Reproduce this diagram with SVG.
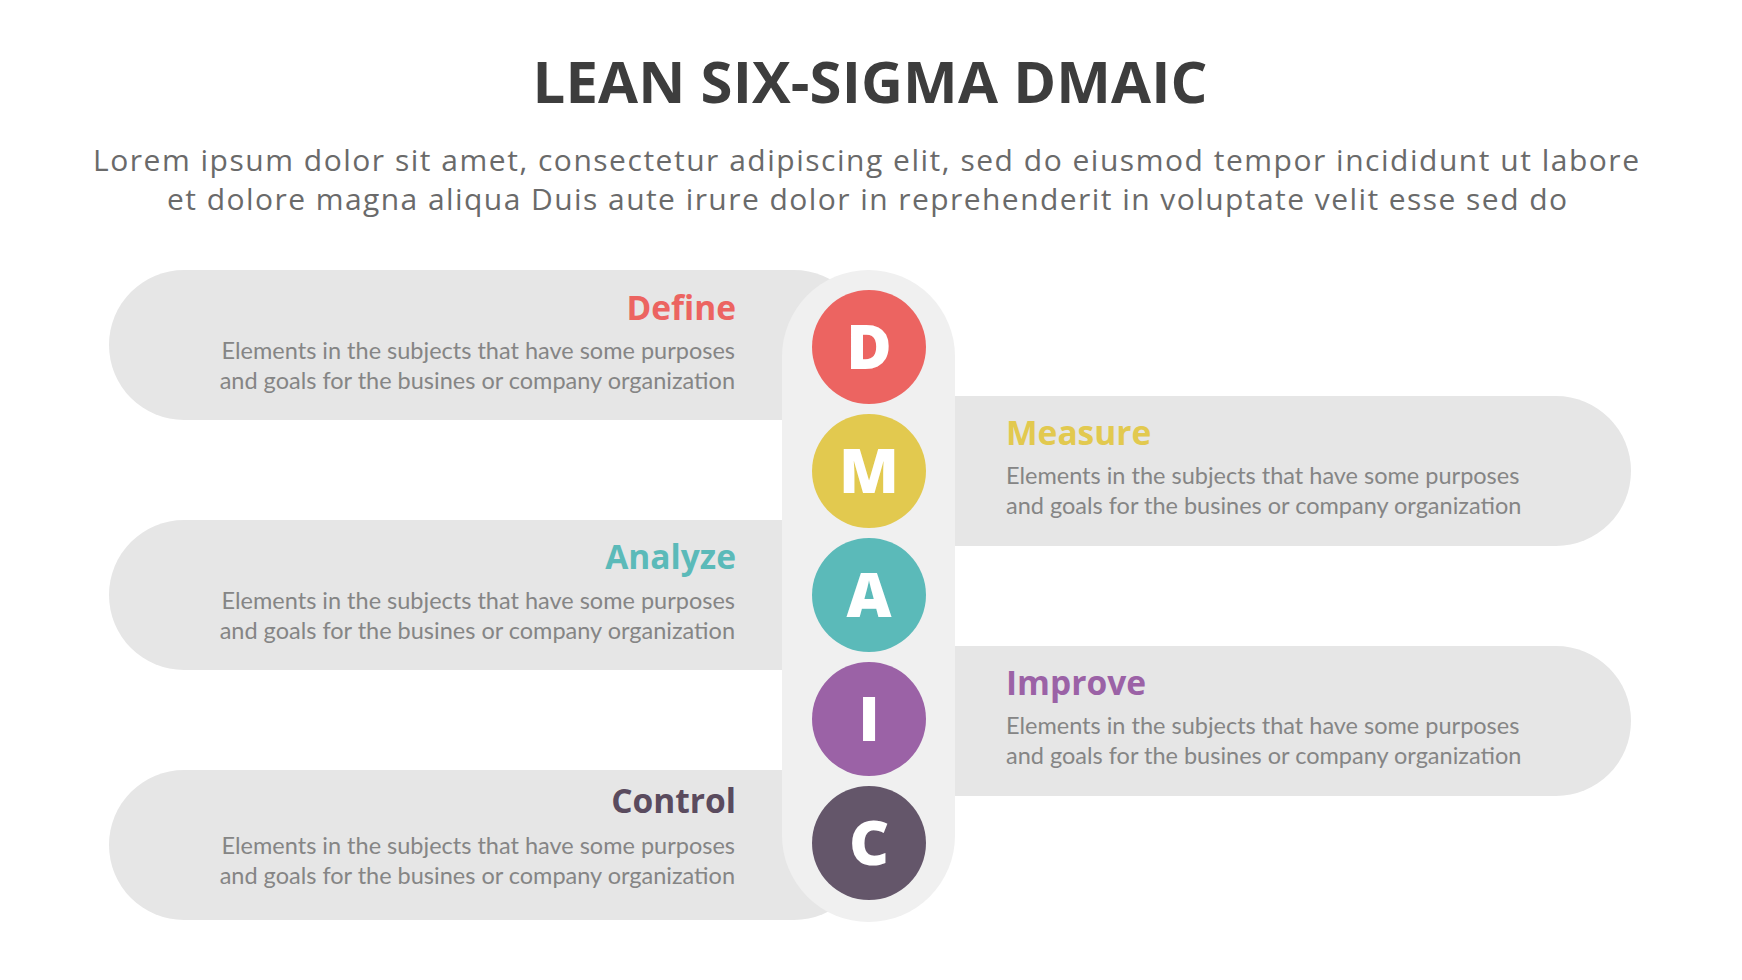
<svg xmlns="http://www.w3.org/2000/svg" width="1742" height="980" viewBox="0 0 1742 980">
<style>
.title{font-family:"Open Sans","Liberation Sans",sans-serif;font-weight:700;font-size:58px;fill:#3d3d3d;text-anchor:middle}
.sub{font-family:"Open Sans","Liberation Sans",sans-serif;font-weight:400;font-size:30px;fill:#6a6a6a;text-anchor:middle}
.pill{fill:#e6e6e6}
.col{fill:#f0f0f0}
.head{font-family:"Open Sans","Liberation Sans",sans-serif;font-weight:700;font-size:33.5px}
.desc{font-family:Lato,"Liberation Sans",sans-serif;font-weight:400;font-size:23.5px;fill:#858585}
.l{text-anchor:end}
.r{text-anchor:start}
.letter{font-family:"Open Sans","Liberation Sans",sans-serif;font-weight:800;font-size:62px;fill:#ffffff;text-anchor:middle}
</style>
<rect width="1742" height="980" fill="#ffffff"/>
<g id="header">
<text class="title" x="870" y="103" textLength="675">LEAN SIX-SIGMA DMAIC</text>
<text class="sub" x="866" y="171" textLength="1546">Lorem ipsum dolor sit amet, consectetur adipiscing elit, sed do eiusmod tempor incididunt ut labore</text>
<text class="sub" x="867" y="210" textLength="1400">et dolore magna aliqua Duis aute irure dolor in reprehenderit in voluptate velit esse sed do</text>
</g>
<g id="pills">
<rect class="pill" x="109" y="270" width="760" height="150" rx="75"/>
<rect class="pill" x="869" y="396" width="762" height="150" rx="75"/>
<rect class="pill" x="109" y="520" width="760" height="150" rx="75"/>
<rect class="pill" x="869" y="646" width="762" height="150" rx="75"/>
<rect class="pill" x="109" y="770" width="760" height="150" rx="75"/>
</g>
<g id="column">
<rect class="col" x="782" y="270" width="173" height="652" rx="86.5"/>
</g>
<g id="define">
<circle cx="869" cy="347" r="57" fill="#ec6461"/>
<text class="letter" x="869" y="369">D</text>
<text class="head l" x="736" y="320" fill="#ec6461">Define</text>
<text class="desc l" x="735" y="359">Elements in the subjects that have some purposes</text>
<text class="desc l" x="735" y="389">and goals for the  busines or company organization</text>
</g>
<g id="measure">
<circle cx="869" cy="471" r="57" fill="#e2c94f"/>
<text class="letter" x="869" y="493">M</text>
<text class="head r" x="1006" y="445" fill="#e2c94f">Measure</text>
<text class="desc r" x="1006" y="484">Elements in the subjects that have some purposes</text>
<text class="desc r" x="1006" y="514">and goals for the  busines or company organization</text>
</g>
<g id="analyze">
<circle cx="869" cy="595" r="57" fill="#5bbab9"/>
<text class="letter" x="869" y="617">A</text>
<text class="head l" x="736" y="569" fill="#5bbab9">Analyze</text>
<text class="desc l" x="735" y="609">Elements in the subjects that have some purposes</text>
<text class="desc l" x="735" y="639">and goals for the  busines or company organization</text>
</g>
<g id="improve">
<circle cx="869" cy="719" r="57" fill="#9b62a6"/>
<text class="letter" x="869" y="741">I</text>
<text class="head r" x="1006" y="695" fill="#9b62a6">Improve</text>
<text class="desc r" x="1006" y="734">Elements in the subjects that have some purposes</text>
<text class="desc r" x="1006" y="764">and goals for the  busines or company organization</text>
</g>
<g id="control">
<circle cx="869" cy="843" r="57" fill="#64566a"/>
<text class="letter" x="869" y="865">C</text>
<text class="head l" x="736" y="813" fill="#5a4b5e">Control</text>
<text class="desc l" x="735" y="854">Elements in the subjects that have some purposes</text>
<text class="desc l" x="735" y="884">and goals for the  busines or company organization</text>
</g>
</svg>
